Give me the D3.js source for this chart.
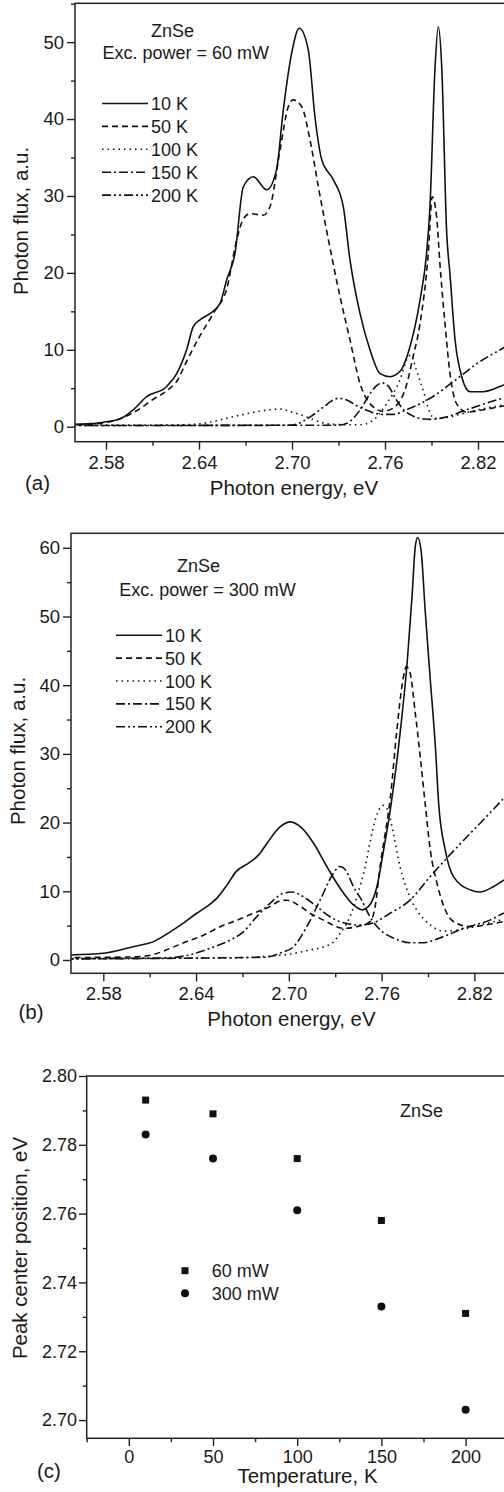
<!DOCTYPE html>
<html>
<head>
<meta charset="utf-8">
<script src="https://cdn.jsdelivr.net/npm/d3@7"></script>
<style>
  body { margin: 0; background: #fff; }
  svg { display: block; font-family: "Liberation Sans", Arial, sans-serif; }
  text { fill: #1a1a1a; }
</style>
</head>
<body>
<svg id="chart" width="504" height="1492"></svg>
<script>
// ---- Panel (a): 60 mW spectra, [photon energy eV, photon flux a.u.]
const a10K = [[2.555,0.3],[2.57,0.4],[2.58,0.65],[2.589,1.0],[2.5976,2.2],[2.6062,3.9],[2.619,5.2],[2.6256,6.9],[2.632,10],[2.6363,13.0],[2.6406,13.9],[2.647,14.7],[2.6535,16],[2.6579,19.1],[2.6632,22.5],[2.6686,31.2],[2.675,32.5],[2.6837,30.8],[2.690,33.4],[2.6944,41.2],[2.6998,48.6],[2.7047,51.8],[2.7105,49],[2.7148,40.3],[2.7192,34.7],[2.7267,32.1],[2.7331,28.6],[2.7374,21.7],[2.7439,14.7],[2.7503,10],[2.7568,6.9],[2.7632,6.5],[2.7697,7.2],[2.7761,10.4],[2.7826,16.5],[2.7868,22.5],[2.789,28.6],[2.7923,46.8],[2.7944,52.0],[2.7966,46.8],[2.7998,25.2],[2.8019,19.9],[2.8052,11.3],[2.8095,6.5],[2.8148,4.55],[2.8234,4.55],[2.8363,5.4],[2.86,7.0]];
const a50K = [[2.555,0.2],[2.57,0.3],[2.58,0.55],[2.59,1.1],[2.60,2.1],[2.61,3.5],[2.62,4.8],[2.626,6.0],[2.632,8.5],[2.6406,11.8],[2.65,15],[2.658,18],[2.664,24],[2.6686,27],[2.673,27.7],[2.6815,27.5],[2.6858,28.6],[2.6923,36],[2.6976,41.6],[2.7008,42.5],[2.7063,41.6],[2.7116,37.3],[2.717,31.2],[2.7235,24.3],[2.731,16.9],[2.7374,11.3],[2.7439,5.6],[2.7503,3.0],[2.759,2.0],[2.7675,2.8],[2.774,5.5],[2.778,9.0],[2.7826,13.4],[2.7879,22.5],[2.7905,29.9],[2.7933,27.3],[2.7955,21],[2.7987,13.4],[2.802,6.8],[2.8062,3.0],[2.8126,1.9],[2.8234,2.2],[2.8363,2.7],[2.86,3.4]];
const a100K = [[2.555,0.2],[2.63,0.25],[2.645,0.5],[2.662,1.3],[2.679,2.0],[2.692,2.3],[2.70,1.9],[2.709,1.3],[2.718,0.6],[2.727,0.3],[2.744,0.25],[2.752,0.8],[2.761,3.0],[2.7697,6.1],[2.775,9.1],[2.777,9.3],[2.780,7.5],[2.785,4.5],[2.789,1.8],[2.792,1.1],[2.80,1.2],[2.81,1.7],[2.82,2.2],[2.836,2.8],[2.86,3.6]];
const a150K = [[2.555,0.15],[2.73,0.2],[2.736,0.5],[2.74,1.2],[2.745,2.5],[2.75,4.2],[2.755,5.4],[2.758,5.7],[2.762,5.3],[2.767,3.6],[2.772,2.2],[2.778,1.4],[2.785,1.0],[2.79,0.95],[2.80,1.3],[2.81,2.0],[2.82,2.7],[2.836,3.7],[2.86,4.8]];
const a200K = [[2.555,0.15],[2.70,0.2],[2.705,0.5],[2.712,1.3],[2.72,2.5],[2.726,3.4],[2.730,3.7],[2.735,3.5],[2.742,2.7],[2.75,2.0],[2.758,1.6],[2.765,1.6],[2.775,2.3],[2.79,3.8],[2.805,6.0],[2.82,8.3],[2.836,10.2],[2.86,13]];

// ---- Panel (b): 300 mW spectra
const b10K = [[2.555,0.7],[2.58,0.97],[2.5908,1.46],[2.6016,2.04],[2.6125,2.67],[2.6233,4.1],[2.632,5.4],[2.6404,6.8],[2.6471,7.8],[2.6535,9.0],[2.66,10.9],[2.666,12.9],[2.674,14.1],[2.6805,15.3],[2.6859,17.0],[2.6945,19.4],[2.7009,20.1],[2.7074,19.4],[2.716,17.0],[2.7246,13.6],[2.7333,10.4],[2.7419,8.0],[2.7475,7.3],[2.7516,7.8],[2.757,10.7],[2.7613,16],[2.7656,21.8],[2.7722,33.5],[2.7765,43.2],[2.7797,52.9],[2.7818,60.2],[2.7833,61.5],[2.7855,59.7],[2.7883,50.5],[2.7915,40.8],[2.7948,31.0],[2.7969,22.8],[2.8012,16],[2.8066,12.1],[2.8174,10.2],[2.8238,9.9],[2.8325,10.7],[2.8389,11.6],[2.86,13.5]];
const b50K = [[2.555,0.35],[2.60,0.45],[2.6125,0.8],[2.6233,1.7],[2.634,2.7],[2.6448,3.6],[2.6556,4.85],[2.6665,5.8],[2.6772,6.8],[2.688,7.8],[2.6945,8.6],[2.6987,8.7],[2.7074,7.8],[2.7137,6.8],[2.7224,5.8],[2.7353,4.6],[2.744,4.85],[2.7526,5.6],[2.756,8],[2.759,13.6],[2.7623,18.4],[2.7656,23.5],[2.7699,33.5],[2.7738,40.8],[2.776,42.7],[2.7785,41.7],[2.7818,35.9],[2.785,29.6],[2.7883,22.5],[2.7915,16],[2.7958,11.2],[2.8022,6.8],[2.8087,5.3],[2.8174,4.85],[2.83,5.2],[2.8389,5.6],[2.86,6.5]];
const b100K = [[2.555,0.2],[2.66,0.3],[2.6988,0.8],[2.7137,1.46],[2.7224,1.9],[2.7289,2.6],[2.7332,3.9],[2.7386,5.8],[2.744,9.2],[2.7494,13.6],[2.7537,18.4],[2.7575,21.5],[2.761,22.5],[2.7645,21.5],[2.7676,18.4],[2.7719,13.6],[2.7773,9.7],[2.7827,7.3],[2.7915,5.1],[2.80,4.2],[2.8129,4.5],[2.8258,5.2],[2.8389,5.9],[2.86,7]];
const b150K = [[2.555,0.15],[2.685,0.4],[2.6943,1.0],[2.7029,1.9],[2.7116,4.85],[2.7202,8.7],[2.7288,12.6],[2.733,13.6],[2.7374,12.85],[2.7417,10.7],[2.7471,8.7],[2.7525,6.3],[2.759,4.4],[2.7676,3.2],[2.7784,2.5],[2.786,2.5],[2.80,3.4],[2.8129,4.6],[2.8301,5.8],[2.8389,6.8],[2.86,8.5]];
const b200K = [[2.555,0.2],[2.62,0.3],[2.635,0.7],[2.649,1.7],[2.662,2.9],[2.6706,4.1],[2.6792,6.3],[2.6878,8.25],[2.6964,9.7],[2.7019,9.9],[2.7094,9.2],[2.718,7.8],[2.7266,6.3],[2.7374,5.3],[2.746,5.1],[2.7546,5.4],[2.7655,6.8],[2.7784,8.7],[2.7913,12.1],[2.8021,14.8],[2.8151,17.9],[2.828,20.9],[2.8389,23.5],[2.86,28]];

// ---- Panel (c): peak centre position vs temperature
const temperatures = [10, 50, 100, 150, 200];
const peak60mW = [2.793, 2.789, 2.776, 2.758, 2.731];
const peak300mW = [2.783, 2.776, 2.761, 2.733, 2.703];

// legend / tick labels
const tempLabels = ['10 K', '50 K', '100 K', '150 K', '200 K'];
const energyTicks = [2.58, 2.64, 2.70, 2.76, 2.82];
const energyMinor = [2.61, 2.67, 2.73, 2.79, 2.85];
const fluxTicks = [0, 10, 20, 30, 40, 50, 60];
const fluxMinor = [5, 15, 25, 35, 45, 55];
const tempTicks = [0, 50, 100, 150, 200];
const tempMinor = [-25, 25, 75, 125, 175, 225];
const posTicks = [2.70, 2.72, 2.74, 2.76, 2.78, 2.80];
const posMinor = [2.71, 2.73, 2.75, 2.77, 2.79];

const dashes = [null, '6,4', '1.5,4', '9,3,2,3', '9,3,2,3,2,3'];
const ink = '#1a1a1a';

const svg = d3.select('#chart');

// keep only ticks that fall inside a scale's domain
const inside = (scale, vals) => {
  const [lo, hi] = d3.extent(scale.domain());
  return vals.filter(v => v >= lo - 1e-9 && v <= hi + 1e-9);
};

// Draw frame + ticks for one panel
function drawFrame(g, x, y, o) {
  const [x0, x1] = x.range();
  const [y0, y1] = y.range();
  g.append('rect')
    .attr('x', x0).attr('y', y1)
    .attr('width', x1 - x0).attr('height', y0 - y1)
    .attr('fill', 'none').attr('stroke', '#222').attr('stroke-width', 1.5);

  const styleAxis = sel => {
    sel.select('.domain').remove();
    sel.selectAll('line').attr('stroke', '#222').attr('stroke-width', 1.4);
    sel.selectAll('text').attr('fill', ink).style('font-size', o.tickFont + 'px')
      .style('font-family', '"Liberation Sans", Arial, sans-serif');
  };

  g.append('g').attr('transform', `translate(0,${y0})`)
    .call(d3.axisBottom(x).tickValues(inside(x, o.xMajor)).tickSize(o.tick).tickPadding(o.xPad).tickFormat(o.xFmt))
    .call(styleAxis);
  g.append('g').attr('transform', `translate(0,${y0})`)
    .call(d3.axisBottom(x).tickValues(inside(x, o.xMinor)).tickSize(o.tick / 2).tickFormat(''))
    .call(styleAxis);
  g.append('g').attr('transform', `translate(${x0},0)`)
    .call(d3.axisLeft(y).tickValues(inside(y, o.yMajor)).tickSize(o.tick).tickPadding(o.yPad).tickFormat(o.yFmt))
    .call(styleAxis);
  g.append('g').attr('transform', `translate(${x0},0)`)
    .call(d3.axisLeft(y).tickValues(inside(y, o.yMinor)).tickSize(o.tick / 2).tickFormat(''))
    .call(styleAxis);
}

function label(g, str, x, yy, size, anchor, rotate) {
  const t = g.append('text')
    .attr('text-anchor', anchor || 'start')
    .style('font-size', size + 'px')
    .text(str);
  if (rotate) t.attr('transform', `translate(${x},${yy}) rotate(-90)`);
  else t.attr('x', x).attr('y', yy);
  return t;
}

function drawSpectrum(o) {
  const g = svg.append('g');
  const x = d3.scaleLinear().domain(o.xDomain).range(o.xRange);
  const y = d3.scaleLinear().domain(o.yDomain).range(o.yRange);

  const clipId = 'clip-' + o.id;
  svg.append('clipPath').attr('id', clipId)
    .append('rect')
    .attr('x', o.xRange[0]).attr('y', o.yRange[1])
    .attr('width', o.xRange[1] - o.xRange[0]).attr('height', o.yRange[0] - o.yRange[1]);

  const line = d3.line()
    .x(d => x(d[0]))
    .y(d => y(d[1]))
    .curve(d3.curveMonotoneX);

  const curves = g.append('g').attr('clip-path', `url(#${clipId})`);
  o.series.forEach((s, i) => {
    curves.append('path')
      .datum(s)
      .attr('d', line)
      .attr('fill', 'none')
      .attr('stroke', '#111')
      .attr('stroke-width', 1.6)
      .attr('stroke-dasharray', dashes[i]);
  });

  drawFrame(g, x, y, {
    xMajor: energyTicks, xMinor: energyMinor,
    yMajor: fluxTicks, yMinor: fluxMinor,
    xFmt: d3.format('.2f'), yFmt: d3.format('d'),
    tick: 8, xPad: 6, yPad: 3, tickFont: 18.5
  });

  // annotation
  label(g, 'ZnSe', o.noteX, o.noteY, 18, 'middle');
  label(g, o.power, o.powerX, o.noteY + o.noteGap, 18, 'middle');

  // legend
  const leg = g.append('g');
  tempLabels.forEach((t, i) => {
    const yy = o.legY + i * 22.9;
    leg.append('line')
      .attr('x1', o.legX).attr('x2', o.legX + 46)
      .attr('y1', yy - 6.5).attr('y2', yy - 6.5)
      .attr('stroke', '#111').attr('stroke-width', 1.6)
      .attr('stroke-dasharray', dashes[i]);
    label(leg, t, o.legX + 49, yy, 18);
  });

  // axis titles
  label(g, 'Photon energy, eV', o.xTitleX, o.xTitleY, 20.5, 'middle');
  label(g, 'Photon flux, a.u.', o.yTitleX, o.yTitleY, 20.5, 'middle', true);
  label(g, o.tag, o.tagX, o.tagY, 20.5, 'middle');
}

drawSpectrum({
  id: 'a',
  xDomain: [2.56, 2.86], xRange: [75, 75 + 0.30 * 1550],
  yDomain: [-1.95, 55.05], yRange: [441.7, 3.3],
  series: [a10K, a50K, a100K, a150K, a200K],
  noteX: 172.5, noteY: 36.7, noteGap: 22.6, power: 'Exc. power = 60 mW', powerX: 185.8,
  legX: 102, legY: 110,
  xTitleX: 294, xTitleY: 495, yTitleX: 28, yTitleY: 221,
  tag: '(a)', tagX: 37.5, tagY: 490
});

drawSpectrum({
  id: 'b',
  xDomain: [2.5591, 2.86], xRange: [71, 71 + (2.86 - 2.5591) * 1546],
  yDomain: [-1.94, 62.11], yRange: [973.3, 533.3],
  series: [b10K, b50K, b100K, b150K, b200K],
  noteX: 198.5, noteY: 572, noteGap: 23.5, power: 'Exc. power = 300 mW', powerX: 207.5,
  legX: 116, legY: 641.7,
  xTitleX: 291.5, xTitleY: 1026, yTitleX: 25, yTitleY: 751,
  tag: '(b)', tagX: 31, tagY: 1019
});

// ---- Panel (c)
(function drawPeaks() {
  const g = svg.append('g');
  const x = d3.scaleLinear().domain([-25, 250]).range([86.7, 86.7 + 275 * 1.684]);
  const y = d3.scaleLinear().domain([2.6947, 2.80]).range([1438.3, 1076]);

  drawFrame(g, x, y, {
    xMajor: tempTicks, xMinor: tempMinor,
    yMajor: posTicks, yMinor: posMinor,
    xFmt: d3.format('d'), yFmt: d3.format('.2f'),
    tick: 7.7, xPad: 4, yPad: 2, tickFont: 18
  });

  const sq = 7;
  g.selectAll('.sq').data(temperatures).enter().append('rect')
    .attr('x', d => x(d) - sq / 2)
    .attr('y', (d, i) => y(peak60mW[i]) - sq / 2)
    .attr('width', sq).attr('height', sq)
    .attr('fill', '#111');
  g.selectAll('.dot').data(temperatures).enter().append('circle')
    .attr('cx', d => x(d))
    .attr('cy', (d, i) => y(peak300mW[i]))
    .attr('r', 4)
    .attr('fill', '#111');

  // legend
  g.append('rect').attr('x', 185 - sq / 2).attr('y', 1270.7 - sq / 2)
    .attr('width', sq).attr('height', sq).attr('fill', '#111');
  g.append('circle').attr('cx', 185).attr('cy', 1293.3).attr('r', 4).attr('fill', '#111');
  label(g, '60 mW', 211.7, 1277, 18);
  label(g, '300 mW', 211.7, 1300, 18);
  label(g, 'ZnSe', 400, 1117, 18);

  label(g, 'Temperature, K', 307.5, 1483, 20.5, 'middle');
  label(g, 'Peak center position, eV', 27, 1248, 20.5, 'middle', true);
  label(g, '(c)', 49, 1478, 20.5, 'middle');
})();
</script>
</body>
</html>
